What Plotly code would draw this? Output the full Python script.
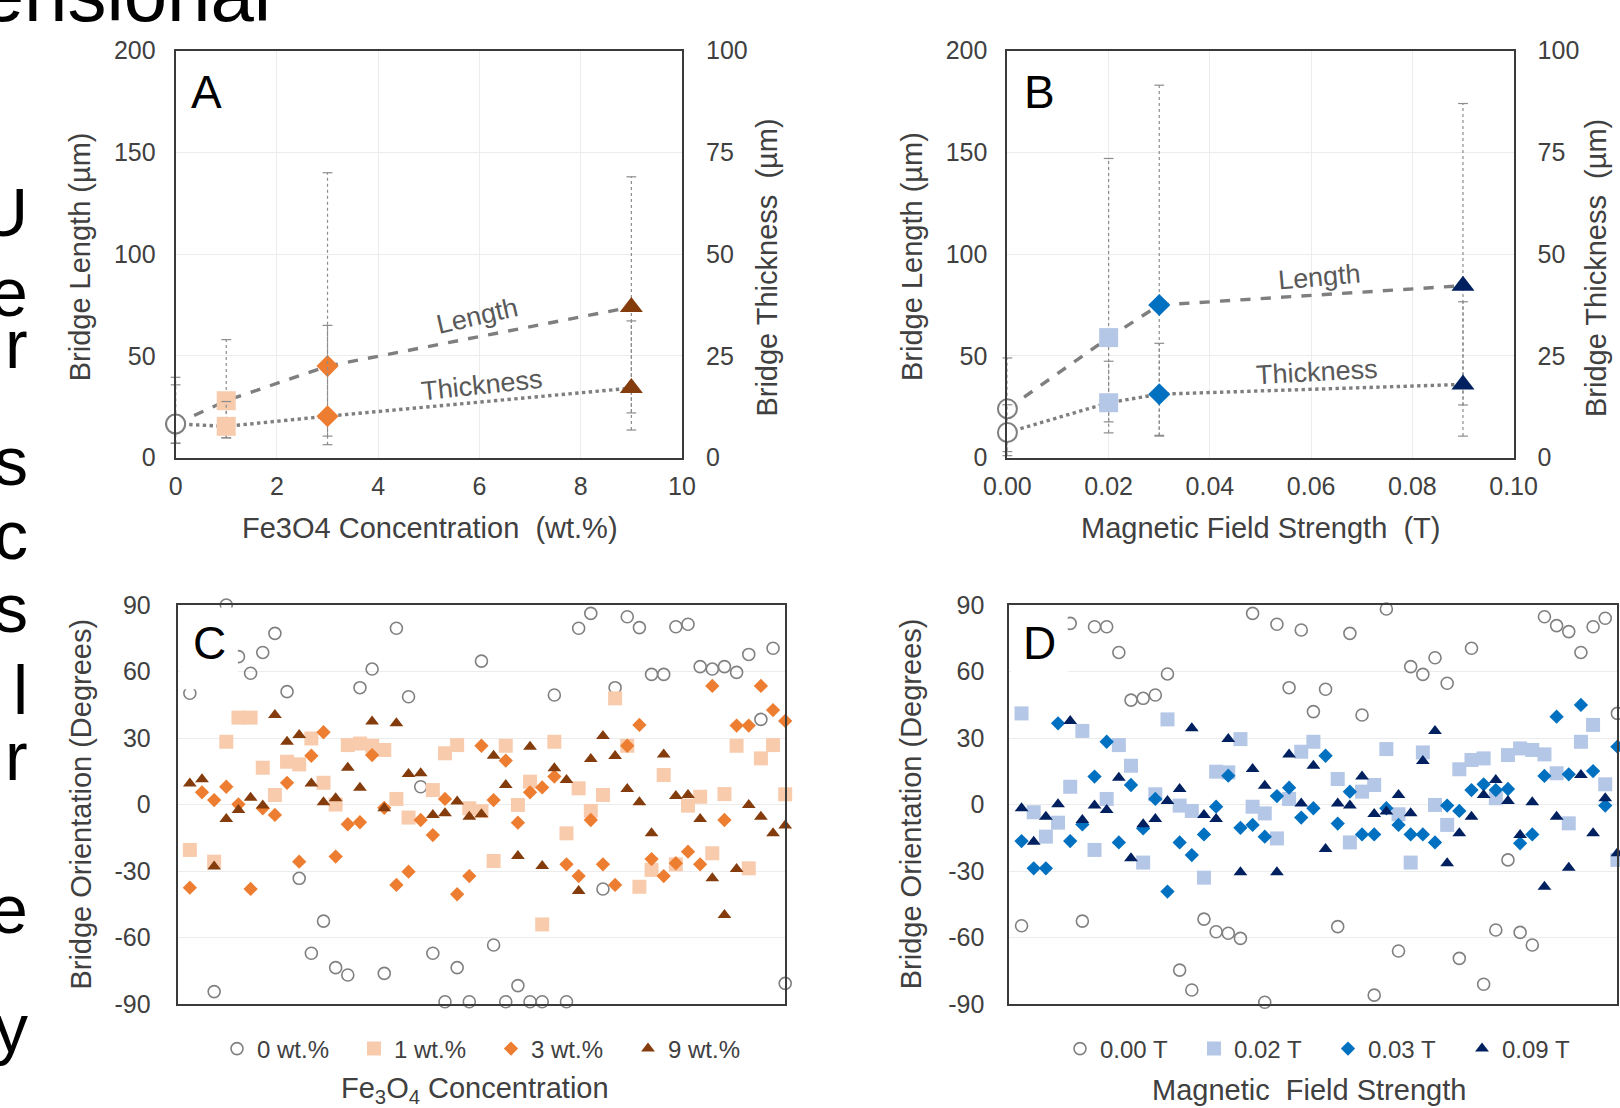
import plotly.graph_objects as go

W, H = 1620, 1108

# ---------------- Panel A data (Fe3O4 concentration) ----------------
a_x = [0, 1, 3, 9]
a_len = [16.5, 28, 45, 74]
a_len_hi = [39.5, 58, 140, 138]
a_len_lo = [7, 9.7, 6.4, 13.6]
a_thk = [8.3, 7.7, 10.2, 17.1]
a_thk_hi = [17.9, 13.8, 32.5, 33.6]
a_thk_lo = [3.6, 4.9, 5.3, 11.0]
a_colors = ["#ffffff", "#f8cbad", "#ed7d31", "#843c0c"]
a_lines = ["#808080", "#f8cbad", "#ed7d31", "#843c0c"]

# ---------------- Panel B data (magnetic field) ----------------
b_x = [0, 0.02, 0.03, 0.09]
b_len = [24, 59, 75, 84.5]
b_len_hi = [49, 147, 183, 174]
b_len_lo = [1, 17.6, 10.6, 25.9]
b_thk = [6.2, 13.5, 15.6, 18.0]
b_thk_hi = [13, 23.7, 28.1, 38.3]
b_thk_lo = [1.5, 6.1, 5.5, 5.3]
b_colors = ["#ffffff", "#b4c7e7", "#0070c0", "#002060"]
b_lines = ["#808080", "#b4c7e7", "#0070c0", "#002060"]

symbols4 = ["circle", "square", "diamond", "triangle-up"]

# ---------------- Panel C data (orientation vs concentration) ----------------
idx = list(range(1, 51))
c_0wt = [50.2, None, -84.4, 90, 66.7, 59.2, 68.6, 77.2, 50.9, -33.3,
         -67.1, -52.6, -73.6, -76.9, 52.7, 61.1, -76.2, 79.5, 48.6, 8.0,
         -67.1, -89, -73.6, -89, 64.7, -63.4, -89, -81.7, -89, -89,
         49.4, -89, 79.5, 86.2, -38.1, 52.7, 84.7, 79.8, 58.7, 58.7,
         80.2, 81.3, 62.2, 61.1, 62.2, 59.6, 67.7, 38.4, 70.5, -80.7]
c_1wt = [-20.5, None, -25.8, 28.3, 39.2, 39.2, 16.6, 4.3, 19.3, 18.1,
         29.8, 9.8, 0.0, 26.8, 27.5, 26.5, 24.6, 2.5, -5.9, None,
         6.5, 23.1, 26.8, -1.7, -3.0, -25.5, 26.5, -0.2, 10.3, -54.1,
         28.3, -13.0, 7.3, -2.9, 4.3, 47.9, 26.5, -37.1, -29.5, 13.3,
         -27.0, -0.5, 3.5, -22.0, 4.7, 26.5, -28.8, 20.8, 26.8, 4.6]
c_3wt = [-37.5, 5.5, 2.0, 8.0, 0.1, -38.1, -1.7, -4.7, 9.8, -25.8,
         22.0, 32.6, -23.5, -8.9, -8.0, 22.3, -1.5, -36.3, -30.3, -7.0,
         -13.8, 2.5, -40.5, -32.3, 26.5, 2.0, 19.8, -8.2, 5.5, 7.7,
         12.6, -27.0, -32.3, -7.0, -27.0, -36.3, 26.5, 35.9, -24.6, -32.3,
         -26.5, -21.3, -27.0, 53.5, -7.0, 35.6, 35.6, 53.5, 42.6, 37.7]
c_9wt = [9.5, 11.4, -28.0, -6.5, -2.5, 3.1, -0.5, 40.4, 28.3, 31.4,
         9.5, 1.0, 2.8, 16.6, 7.6, 37.4, -1.7, 36.6, 13.8, 14.1,
         -4.7, -4.0, 1.3, -5.5, -4.4, 22.0, 8.8, -23.2, 26.1, -27.7,
         16.3, 11.1, -39.0, 20.5, 30.9, 21.9, 7.0, 1.0, -13.0, 22.6,
         3.8, 4.3, -6.5, -33.3, -49.8, -29.1, -0.2, -5.5, -13.0, -9.5]
c_names = ["0 wt.%", "1 wt.%", "3 wt.%", "9 wt.%"]

# ---------------- Panel D data (orientation vs field) ----------------
d_000 = [-54.7, None, None, None, 81.7, -52.6, 80.2, 80.2, 68.6, 47.1,
         47.9, 49.4, 58.9, -74.7, -83.7, -51.7, -57.4, -58.1, -60.4, 86.2,
         -89.2, 81.3, 52.7, 78.7, 41.9, 52.0, -55.1, 77.2, 40.4, -86.0,
         88.2, -66.1, 62.2, 58.7, 66.2, 54.7, -69.4, 70.5, -81.1, -56.6,
         -25.0, -57.7, -63.4, 84.7, 80.7, 78.0, 68.6, 80.2, 84.0, 41.1]
d_002 = [41.1, -3.5, -14.5, -8.2, 8.0, 33.2, -20.5, 2.5, 26.8, 17.5,
         -26.2, 4.6, 38.4, -0.5, -2.9, -33.0, 14.8, 14.5, 29.5, -1.0,
         -4.0, -15.3, 2.5, 23.8, 28.3, None, 11.5, -17.1, 5.8, 8.8,
         25.0, -4.4, -26.2, 23.5, -0.2, -9.2, 15.9, 20.1, 20.8, 2.8,
         22.3, 25.3, 24.6, 22.6, 14.1, -8.5, 28.3, 35.9, 9.1, -25.0]
d_003 = [-16.5, -28.8, -28.8, 36.6, -16.5, -9.0, 12.6, 28.3, -17.1, 8.8,
         -10.8, 2.5, -39.3, -17.1, -22.8, -13.5, -1.0, 13.0, -10.5, -9.2,
         -14.5, 3.8, 7.6, -5.9, -1.7, 22.0, -8.6, 5.8, -13.5, -13.5,
         -1.7, -9.2, -13.5, -13.5, -17.1, -0.5, -2.9, 6.5, 9.1, 6.5,
         7.0, -17.5, -13.5, 12.9, 39.6, 13.6, 44.9, 15.1, -0.5, 26.1]
d_009 = [-1.7, -16.8, -5.5, 0.1, 37.7, -7.0, -0.5, -2.5, 12.1, -24.3,
         -8.9, -6.5, 1.6, 7.0, 34.4, -4.7, -6.5, 29.5, -30.6, 16.0,
         8.5, -30.6, 22.6, 0.5, 17.5, -20.1, 0.5, -0.5, 12.6, -4.3,
         -3.2, 4.3, -4.0, 19.6, 33.2, -26.5, -13.0, -5.5, 4.3, 11.1,
         1.6, -13.8, 1.0, -37.1, -5.5, -28.5, 13.3, -13.0, 2.8, -22.0]
d_names = ["0.00 T", "0.02 T", "0.03 T", "0.09 T"]

# tick labels
len_ticks = [0, 50, 100, 150, 200]
thk_ticks = [0, 25, 50, 75, 100]
conc_ticks = [0, 2, 4, 6, 8, 10]
field_ticks = [0, 0.02, 0.04, 0.06, 0.08, 0.1]
field_ticktext = ["0.00", "0.02", "0.04", "0.06", "0.08", "0.10"]
deg_ticks = [-90, -60, -30, 0, 30, 60, 90]
deg_ticktext = ["-90", "-60", "-30", "0", "30", "60", "90"]

# ---------------- helpers ----------------
def px(p):
    return p / W

def py(p):
    return 1 - p / H

REG = "Liberation Sans, Arial, sans-serif"
TXT = "#404040"
GRID = "#ececec"
ERRC = "#8c8c8c"

fig = go.Figure()


def add_err(xs, lo, hi, xa, ya):
    X, Y = [], []
    for x, l, h in zip(xs, lo, hi):
        X += [x, x, None]
        Y += [l, h, None]
    fig.add_trace(go.Scatter(x=X, y=Y, mode="lines", xaxis=xa, yaxis=ya,
                             line=dict(color=ERRC, width=1.2, dash="dot"),
                             showlegend=False, hoverinfo="skip", cliponaxis=False))
    fig.add_trace(go.Scatter(x=list(xs) + list(xs), y=list(hi) + list(lo), mode="markers",
                             xaxis=xa, yaxis=ya,
                             marker=dict(symbol="line-ew", size=7, opacity=1,
                                         line=dict(color=ERRC, width=1.2)),
                             showlegend=False, hoverinfo="skip", cliponaxis=False))


def add_summary(xs, ys, xa, ya, dash, fills, lines):
    fig.add_trace(go.Scatter(x=xs, y=ys, mode="lines", xaxis=xa, yaxis=ya,
                             line=dict(color="#7f7f7f", width=3.4, dash=dash),
                             showlegend=False, hoverinfo="skip", cliponaxis=False))
    fig.add_trace(go.Scatter(x=xs, y=ys, mode="markers", xaxis=xa, yaxis=ya,
                             marker=dict(symbol=symbols4, size=[19, 19, 17, 20],
                                         color=fills, opacity=1,
                                         line=dict(color=lines, width=[2, 0, 0, 0])),
                             showlegend=False, cliponaxis=False))


# Panel A
add_err(a_x, a_len_lo, a_len_hi, "x", "y")
add_err(a_x, a_thk_lo, a_thk_hi, "x", "y2")
add_summary(a_x, a_len, "x", "y", "dash", a_colors, a_lines)
add_summary(a_x, a_thk, "x", "y2", "dot", a_colors, a_lines)

# Panel B
add_err(b_x, b_len_lo, b_len_hi, "x2", "y3")
add_err(b_x, b_thk_lo, b_thk_hi, "x2", "y4")
add_summary(b_x, b_len, "x2", "y3", "dash", b_colors, b_lines)
add_summary(b_x, b_thk, "x2", "y4", "dot", b_colors, b_lines)

# Panel C & D scatter
c_series = [c_0wt, c_1wt, c_3wt, c_9wt]
d_series = [d_000, d_002, d_003, d_009]
c_cols = ["#808080", "#f8cbad", "#ed7d31", "#843c0c"]
d_cols = ["#808080", "#b4c7e7", "#0070c0", "#002060"]
sym = ["circle-open", "square", "diamond", "triangle-up"]
sizes = [12, 14, 11, 12]

for vals, name, col, s, sz in zip(c_series, c_names, c_cols, sym, sizes):
    fig.add_trace(go.Scatter(x=idx, y=vals, mode="markers", name=name, xaxis="x3", yaxis="y5",
                             marker=dict(symbol=s, size=sz, color=col, opacity=1,
                                         line=dict(width=1.6 if s == "circle-open" else 0, color=col)),
                             legend="legend", cliponaxis=False))
for vals, name, col, s, sz in zip(d_series, d_names, d_cols, sym, sizes):
    fig.add_trace(go.Scatter(x=idx, y=vals, mode="markers", name=name, xaxis="x4", yaxis="y6",
                             marker=dict(symbol=s, size=sz, color=col, opacity=1,
                                         line=dict(width=1.6 if s == "circle-open" else 0, color=col)),
                             legend="legend2", cliponaxis=False))

# ---------------- axes ----------------
top = [py(457.7), py(50.6)]
bot = [py(1004), py(605)]
tickfont = dict(family=REG, size=25, color=TXT)
box = dict(showline=True, linecolor="#3a3a3a", linewidth=2, mirror=True, zeroline=False)

fig.update_layout(
    xaxis=dict(domain=[px(175.6), px(682)], range=[0, 10], tickvals=conc_ticks,
               anchor="y", showgrid=True, gridcolor=GRID, tickfont=tickfont,
               ticks="", ticklabelstandoff=5, **box),
    yaxis=dict(domain=top, range=[0, 200], tickvals=len_ticks, anchor="x",
               showgrid=True, gridcolor=GRID, tickfont=tickfont, ticks="",
               ticklabelstandoff=13, **box),
    yaxis2=dict(overlaying="y", side="right", anchor="x", range=[0, 100],
                tickvals=thk_ticks, showgrid=False, tickfont=tickfont,
                ticks="", ticklabelstandoff=23, showline=False, zeroline=False),
    xaxis2=dict(domain=[px(1007.4), px(1513.6)], range=[0, 0.1],
                tickvals=field_ticks, ticktext=field_ticktext,
                anchor="y3", showgrid=True, gridcolor=GRID, tickfont=tickfont,
                ticks="", ticklabelstandoff=5, **box),
    yaxis3=dict(domain=top, range=[0, 200], tickvals=len_ticks, anchor="x2",
                showgrid=True, gridcolor=GRID, tickfont=tickfont, ticks="",
                ticklabelstandoff=13, **box),
    yaxis4=dict(overlaying="y3", side="right", anchor="x2", range=[0, 100],
                tickvals=thk_ticks, showgrid=False, tickfont=tickfont,
                ticks="", ticklabelstandoff=23, showline=False, zeroline=False),
    xaxis3=dict(domain=[px(177.7), px(785.2)], range=[0, 50], anchor="y5",
                showgrid=False, showticklabels=False, ticks="", **box),
    yaxis5=dict(domain=bot, range=[-90, 90], tickvals=deg_ticks, ticktext=deg_ticktext,
                anchor="x3", showgrid=True, gridcolor=GRID, tickfont=tickfont,
                ticks="", ticklabelstandoff=20, **box),
    xaxis4=dict(domain=[px(1009.4), px(1617.4)], range=[0, 50], anchor="y6",
                showgrid=False, showticklabels=False, ticks="", **box),
    yaxis6=dict(domain=bot, range=[-90, 90], tickvals=deg_ticks, ticktext=deg_ticktext,
                anchor="x4", showgrid=True, gridcolor=GRID, tickfont=tickfont,
                ticks="", ticklabelstandoff=18, **box),
)

# ---------------- legends ----------------
legfont = dict(family=REG, size=24, color=TXT)
fig.update_layout(
    legend=dict(orientation="h", x=px(491), xanchor="center", y=py(1049), yanchor="middle",
                font=legfont, itemsizing="trace", entrywidth=92, bgcolor="rgba(0,0,0,0)",
                traceorder="normal"),
    legend2=dict(orientation="h", x=px(1328), xanchor="center", y=py(1049), yanchor="middle",
                 font=legfont, itemsizing="trace", entrywidth=89, bgcolor="rgba(0,0,0,0)",
                 traceorder="normal"),
)

# ---------------- shapes (label boxes hide points, like the original) ----------------
fig.add_shape(type="rect", xref="x3", yref="y5", x0=0.15, x1=4.95, y0=52, y1=88.9,
              fillcolor="white", line=dict(width=0), layer="above")
fig.add_shape(type="rect", xref="x4", yref="y6", x0=0.15, x1=4.8, y0=52, y1=88.9,
              fillcolor="white", line=dict(width=0), layer="above")

ann = []
TITLE = dict(family=REG, size=29, color=TXT)


def A(**k):
    k.setdefault("showarrow", False)
    k.setdefault("xanchor", "center")
    k.setdefault("yanchor", "middle")
    ann.append(k)


# panel letters
A(text="A", xref="x", yref="y", x=0.61, y=179.7, font=dict(family=REG, size=46, color="black"))
A(text="B", xref="x2", yref="y3", x=0.0063, y=179.7, font=dict(family=REG, size=46, color="black"))
A(text="C", xref="x3", yref="y5", x=2.6, y=72.9, font=dict(family=REG, size=46, color="black"))
A(text="D", xref="x4", yref="y6", x=2.47, y=73, font=dict(family=REG, size=46, color="black"))

# line labels
LAB = dict(family=REG, size=27, color="#595959")
A(text="Length", xref="x", yref="y", x=5.96, y=69.5, textangle=-13, font=LAB)
A(text="Thickness", xref="x", yref="y", x=6.06, y=35.5, textangle=-6, font=LAB)
A(text="Length", xref="x2", yref="y3", x=0.0616, y=88.8, textangle=-5, font=LAB)
A(text="Thickness", xref="x2", yref="y3", x=0.0612, y=42.1, textangle=-3, font=LAB)

# axis titles
A(text="Bridge Length (µm)", xref="paper", yref="paper", x=px(79.6), y=py(256.7), textangle=-90, font=TITLE)
A(text="Bridge Thickness  (µm)", xref="paper", yref="paper", x=px(766.6), y=py(268), textangle=-90, font=TITLE)
A(text="Fe3O4 Concentration  (wt.%)", xref="paper", yref="paper", x=px(429.8), y=py(528), font=TITLE)
A(text="Bridge Length (µm)", xref="paper", yref="paper", x=px(911.3), y=py(256.7), textangle=-90, font=TITLE)
A(text="Bridge Thickness  (µm)", xref="paper", yref="paper", x=px(1596), y=py(268), textangle=-90, font=TITLE)
A(text="Magnetic Field Strength  (T)", xref="paper", yref="paper", x=px(1260.5), y=py(528), font=TITLE)
A(text="Bridge Orientation (Degrees)", xref="paper", yref="paper", x=px(80.6), y=py(804), textangle=-90, font=TITLE)
A(text="Bridge Orientation (Degrees)", xref="paper", yref="paper", x=px(911.3), y=py(804), textangle=-90, font=TITLE)
A(text="Fe<sub>3</sub>O<sub>4</sub> Concentration", xref="paper", yref="paper", x=px(475), y=py(1090), font=TITLE)
A(text="Magnetic  Field Strength", xref="paper", yref="paper", x=px(1309), y=py(1090), font=TITLE)

# clipped slide text around the figure
A(text="Dimensional", xref="paper", yref="paper", x=px(273), xanchor="right", y=py(-6), yanchor="middle",
  font=dict(family=REG, size=78, color="black"))
BIG = dict(family=REG, size=68, color="black")
left_letters = [("U", 212), ("e", 292), ("r", 344), ("s", 461), ("c", 535), ("s", 608),
                ("l", 690), ("r", 756), ("e", 909), ("y", 1028)]
for ch, yc in left_letters:
    A(text=ch, xref="paper", yref="paper", x=px(30), xanchor="right", y=py(yc), yanchor="middle", font=BIG)

fig.update_layout(
    annotations=ann,
    width=W, height=H,
    margin=dict(l=0, r=0, t=0, b=0, autoexpand=False),
    paper_bgcolor="white", plot_bgcolor="white",
    showlegend=True,
)

fig.write_html("out.html", config={"displayModeBar": False},
               post_script="document.body.style.margin='0';document.body.style.overflow='hidden';")
